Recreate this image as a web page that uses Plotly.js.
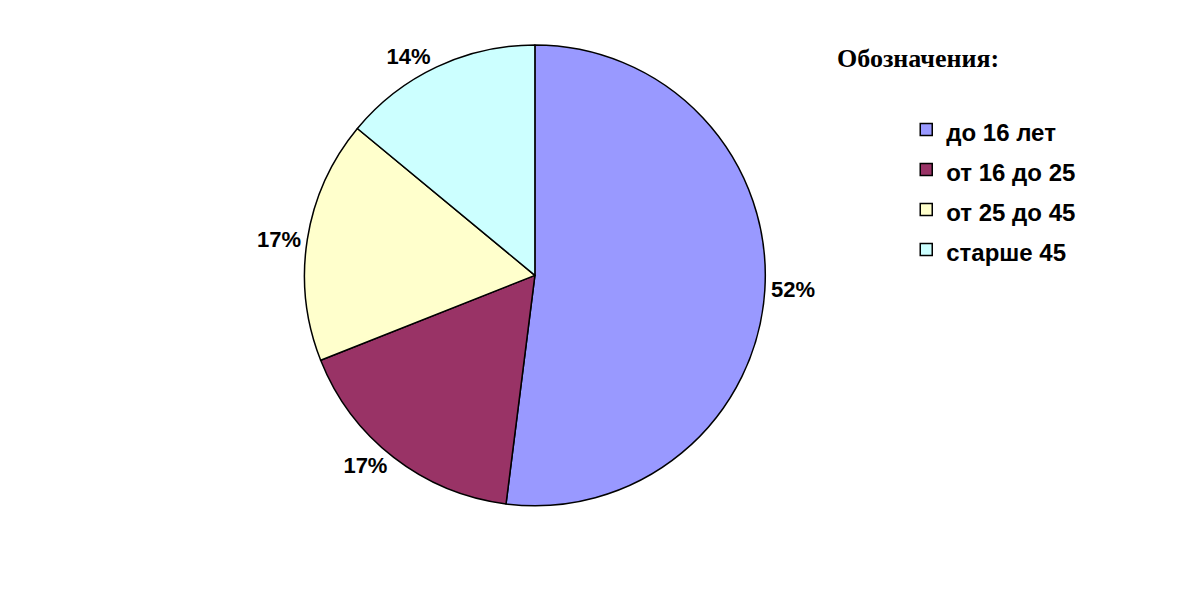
<!DOCTYPE html>
<html>
<head>
<meta charset="utf-8">
<script src="https://cdn.plot.ly/plotly-3.0.1.min.js"></script>
<style>html,body{margin:0;padding:0;background:#fff;}</style>
</head>
<body>
<div id="chart" style="width:1180px;height:600px;"></div>
<script>
var categories = ['до 16 лет', 'от 16 до 25', 'от 25 до 45', 'старше 45'];
var shares = [52, 17, 17, 14];
var sliceColors = ['#9999FF', '#993366', '#FFFFCC', '#CCFFFF'];
var legendTitle = 'Обозначения:';

var legendLabels = categories.map(function (c) {
  return '<span style="font-size:24px">' + c + '</span>';
});

var trace = {
  type: 'pie',
  labels: legendLabels,
  values: shares,
  sort: false,
  direction: 'clockwise',
  rotation: 0,
  marker: { colors: sliceColors, line: { color: '#000000', width: 1.5 } },
  textinfo: 'percent',
  texttemplate: '%{percent:.0%}',
  textposition: 'outside',
  outsidetextfont: { family: 'Liberation Sans, Arial, sans-serif', size: 22, color: '#000000', weight: 'bold' },
  hoverinfo: 'label+percent',
  domain: { x: [0.2576, 0.649], y: [0.157, 0.925] },
  automargin: false
};

var layout = {
  width: 1180,
  height: 600,
  margin: { l: 0, r: 0, t: 0, b: 0 },
  paper_bgcolor: '#ffffff',
  showlegend: true,
  legend: {
    x: 0.768, xanchor: 'left',
    y: 0.826, yanchor: 'top',
    bgcolor: 'rgba(0,0,0,0)',
    font: { family: 'Liberation Sans, Arial, sans-serif', size: 28.5, color: '#000000', weight: 'bold' },
    traceorder: 'normal'
  },
  annotations: [{
    text: legendTitle,
    xref: 'paper', yref: 'paper',
    x: 0.7075, y: 0.902,
    xanchor: 'left', yanchor: 'middle',
    showarrow: false,
    font: { family: 'Liberation Serif, Times New Roman, serif', size: 26, color: '#000000', weight: 'bold' }
  }]
};

Plotly.newPlot('chart', [trace], layout, { displayModeBar: false, staticPlot: true });
</script>
</body>
</html>
